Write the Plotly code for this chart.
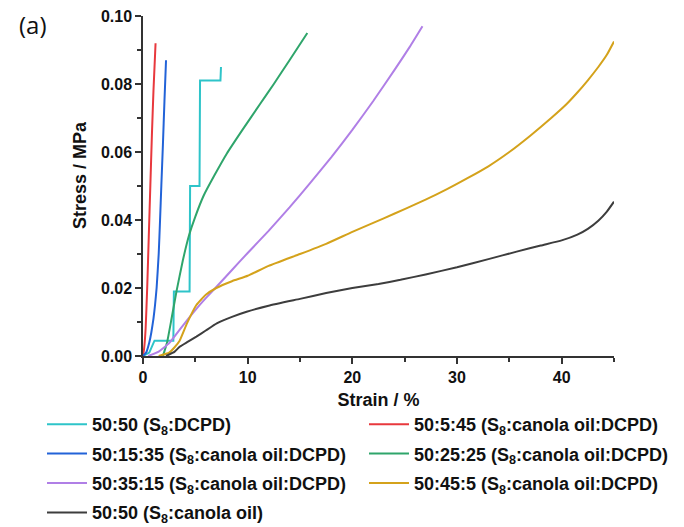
import plotly.graph_objects as go

# ---- data (strain %, stress MPa) ----
names = [
    "50:50 (S<sub>8</sub>:DCPD)",
    "50:5:45 (S<sub>8</sub>:canola oil:DCPD)",
    "50:15:35 (S<sub>8</sub>:canola oil:DCPD)",
    "50:25:25 (S<sub>8</sub>:canola oil:DCPD)",
    "50:35:15 (S<sub>8</sub>:canola oil:DCPD)",
    "50:45:5 (S<sub>8</sub>:canola oil:DCPD)",
    "50:50 (S<sub>8</sub>:canola oil)",
]
colors = ["#2ec4c9", "#e8383d", "#2263d8", "#2fa56b", "#b07fe6", "#d4a21b", "#3d3d3d"]

cyan_x = [0, 0.6, 1.1, 2.9, 2.95, 4.45, 4.5, 5.4, 5.45, 7.4, 7.45]
cyan_y = [0, 0.001, 0.0045, 0.0045, 0.019, 0.019, 0.050, 0.050, 0.081, 0.081, 0.085]

red_x = [0, 0.1, 0.25, 0.4, 0.55, 0.7, 0.85, 1.0, 1.2]
red_y = [0, 0.002, 0.008, 0.02, 0.035, 0.05, 0.065, 0.078, 0.092]

blue_x = [0, 0.3, 0.6, 0.8, 1.0, 1.15, 1.3, 1.5, 1.63, 1.75, 1.9, 2.05, 2.2]
blue_y = [0, 0.001, 0.004, 0.007, 0.011, 0.015, 0.02, 0.03, 0.04, 0.05, 0.062, 0.075, 0.087]

green_x = [1.9, 2.3, 2.7, 3.2, 3.8, 4.4, 5.0, 5.8, 6.8, 8.0, 9.5, 11.2, 12.5, 14.0, 15.7]
green_y = [0, 0.004, 0.0105, 0.019, 0.028, 0.0355, 0.041, 0.0472, 0.053, 0.0595, 0.0665, 0.0742,
           0.0800, 0.087, 0.095]

purple_x = [0.5, 1.5, 2.5, 3.2, 4.0, 5.0, 6.0, 7.0, 8.5, 10, 12, 14, 16, 18, 20, 22, 24, 25.5, 26.7]
purple_y = [0, 0.0013, 0.0038, 0.0065, 0.0097, 0.0135, 0.0170, 0.0203, 0.0253, 0.0303, 0.0368,
            0.0437, 0.0510, 0.0585, 0.0665, 0.0750, 0.0840, 0.0910, 0.0970]

gold_x = [1.5, 2.5, 3.0, 3.5, 4.2, 5.1, 6.0, 7.0, 8.5, 10, 12, 15, 17.5, 20, 23, 25, 27, 29, 31,
          33, 35, 37, 39, 40.5, 41.5, 42.5, 43.5, 44.3, 45]
gold_y = [0, 0.001, 0.0025, 0.0045, 0.0096, 0.015, 0.018, 0.020, 0.022, 0.0236, 0.0265, 0.030,
          0.033, 0.0365, 0.0405, 0.0432, 0.0460, 0.0490, 0.0523, 0.0558, 0.0600, 0.0648, 0.0700,
          0.0742, 0.0775, 0.0811, 0.0850, 0.0885, 0.0925]

gray_x = [2.2, 3.0, 3.5, 4.3, 5.1, 6.0, 7.05, 8.5, 9.9, 12, 15, 17.5, 20, 22.5, 24.6, 27, 30, 33,
          35.7, 38, 40, 41.5, 42.5, 43.5, 44.3, 45]
gray_y = [0, 0.0012, 0.0027, 0.0042, 0.0057, 0.0075, 0.0096, 0.0115, 0.013, 0.0148, 0.0168, 0.0185,
          0.0200, 0.0212, 0.0224, 0.0240, 0.0261, 0.0285, 0.0307, 0.0325, 0.0340, 0.0357, 0.0374,
          0.0398, 0.0424, 0.0454]

series = [(cyan_x, cyan_y), (red_x, red_y), (blue_x, blue_y), (green_x, green_y),
          (purple_x, purple_y), (gold_x, gold_y), (gray_x, gray_y)]
legend_ids = ["legend", "legend2", "legend", "legend2", "legend", "legend2", "legend"]

x_ticks = [0, 10, 20, 30, 40]
y_ticks = [0.00, 0.02, 0.04, 0.06, 0.08, 0.10]

FONT = "Arial"
TXT = "#111111"

fig = go.Figure()
for i, ((xs, ys), name, col, lg) in enumerate(zip(series, names, colors, legend_ids)):
    line = dict(color=col, width=2)
    if i != 0:
        line.update(shape="spline", smoothing=0.4)
    fig.add_trace(go.Scatter(x=xs, y=ys, mode="lines", name=name, legend=lg,
                             legendgroup=f"g{i}", line=line))

axis_common = dict(showline=True, linecolor="#333333", linewidth=1.5, ticks="outside",
                   ticklen=6, tickwidth=1.5, tickcolor="#333333", showgrid=False, zeroline=False,
                   tickfont=dict(family=FONT, size=16, color=TXT, weight="bold"),
                   minor=dict(ticks="outside", ticklen=4, tickwidth=1.5, tickcolor="#333333"))

fig.update_xaxes(range=[0, 45], tickvals=x_ticks, ticktext=[f"<b>{v}</b>" for v in x_ticks],
                 minor_dtick=5,
                 title=dict(text="<b>Strain / %</b>", font=dict(family=FONT, size=18, color=TXT),
                            standoff=8),
                 **axis_common)
fig.update_yaxes(range=[0, 0.1], tickvals=y_ticks, ticktext=[f"<b>{v:.2f}</b>" for v in y_ticks],
                 minor_dtick=0.01,
                 **axis_common)

legend_common = dict(orientation="v", xref="container", yref="container", xanchor="left", yanchor="top",
                     itemwidth=40, bgcolor="rgba(0,0,0,0)", tracegroupgap=3,
                     font=dict(family=FONT, size=18, color=TXT, weight="bold"))

fig.update_layout(
    width=684, height=527,
    margin=dict(l=143, r=70, t=16, b=171, autoexpand=False),
    paper_bgcolor="white", plot_bgcolor="white",
    showlegend=True,
    legend=dict(x=42 / 684, y=1 - 406 / 527, **legend_common),
    legend2=dict(x=364 / 684, y=1 - 406 / 527, **legend_common),
    annotations=[
        dict(text="(a)", xref="paper", yref="paper", x=-0.268, y=0.976, xanchor="left",
             yanchor="middle", showarrow=False,
             font=dict(family="Open Sans, sans-serif", size=24, color=TXT)),
        dict(text="<b>Stress / MPa</b>", xref="paper", yref="paper", x=-0.134, y=0.532,
             xanchor="center", yanchor="middle", textangle=-90, showarrow=False,
             font=dict(family=FONT, size=18, color=TXT)),
    ],
)

fig.write_html("out.html")
